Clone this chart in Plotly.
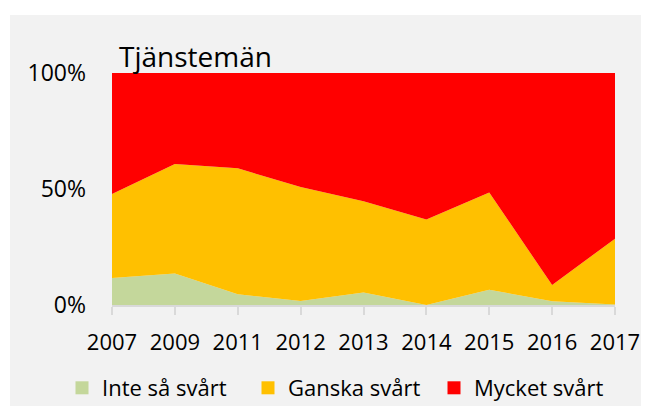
import plotly.graph_objects as go

years = ["2007", "2009", "2011", "2012", "2013", "2014", "2015", "2016", "2017"]
inte_sa_svart = [11.6, 13.6, 4.6, 1.7, 5.4, 0.0, 6.6, 1.6, 0.2]
ganska_svart = [36.2, 47.2, 54.3, 49.2, 39.3, 36.8, 41.9, 7.0, 28.4]
mycket_svart = [52.2, 39.2, 41.1, 49.1, 55.3, 63.2, 51.5, 91.4, 71.4]

series_names = ["Inte så svårt", "Ganska svårt", "Mycket svårt"]
series_values = [inte_sa_svart, ganska_svart, mycket_svart]
colors = ["#C4D79B", "#FFC000", "#FF0000"]

y_tickvals = [0, 50, 100]
y_ticktext = ["0%", "50%", "100%"]

FONT = "Open Sans"

fig = go.Figure()
for name, vals, col in zip(series_names, series_values, colors):
    fig.add_trace(go.Scatter(
        x=years, y=vals, name=name, stackgroup="one", mode="none",
        fillcolor=col, line=dict(width=0), showlegend=False,
        hoverinfo="skip"))
for name, col in zip(series_names, colors):
    fig.add_trace(go.Scatter(
        x=[None], y=[None], name=name, mode="markers",
        marker=dict(symbol="square", size=13, color=col),
        showlegend=True))

# figure is placed at an 8px offset inside the page
OFF = 8
W, H = 649 - OFF, 406 - OFF
L = 112 - OFF
T = 73 - OFF
R = W - (615 - OFF)
B = H - (305 - OFF)
pw, ph = W - L - R, H - T - B

def px_x(p):
    return (p - OFF - L) / pw

def px_y(p):
    return (H - B - (p - OFF)) / ph

fig.add_shape(type="rect", xref="paper", yref="paper",
              x0=px_x(10), x1=px_x(660), y0=px_y(420), y1=px_y(15),
              fillcolor="#F2F2F2", line=dict(width=0), layer="below")

fig.add_annotation(text="Tjänstemän", xref="paper", yref="paper",
                   x=px_x(117), y=1.0, xanchor="left", yanchor="bottom",
                   yshift=-4, showarrow=False,
                   font=dict(family=FONT, size=28, color="#000000"))

fig.update_layout(
    width=W, height=H,
    margin=dict(l=L, r=R, t=T, b=B, autoexpand=False),
    paper_bgcolor="white", plot_bgcolor="#F2F2F2",
    font=dict(family=FONT, size=22, color="#000000"),
    legend=dict(orientation="h", x=px_x(62), xanchor="left", y=px_y(388),
                yanchor="middle", font=dict(family=FONT, size=22, color="#000000"),
                bgcolor="rgba(0,0,0,0)", itemwidth=30, traceorder="normal",
                entrywidth=141, entrywidthmode="pixels"),
    xaxis=dict(type="category", range=[0, len(years) - 1], showgrid=False,
               showline=True, linecolor="#D9D9D9", linewidth=1.5,
               ticks="outside", ticklen=8, tickcolor="#D9D9D9", tickwidth=1.5,
               ticklabelstandoff=9, zeroline=False,
               tickfont=dict(family=FONT, size=22, color="#000000")),
    yaxis=dict(range=[0, 100], tickvals=y_tickvals, ticktext=y_ticktext,
               showgrid=False, zeroline=False, showline=False,
               ticklabelstandoff=25,
               tickfont=dict(family=FONT, size=23, color="#000000")),
)

fig.write_html("out.html")
